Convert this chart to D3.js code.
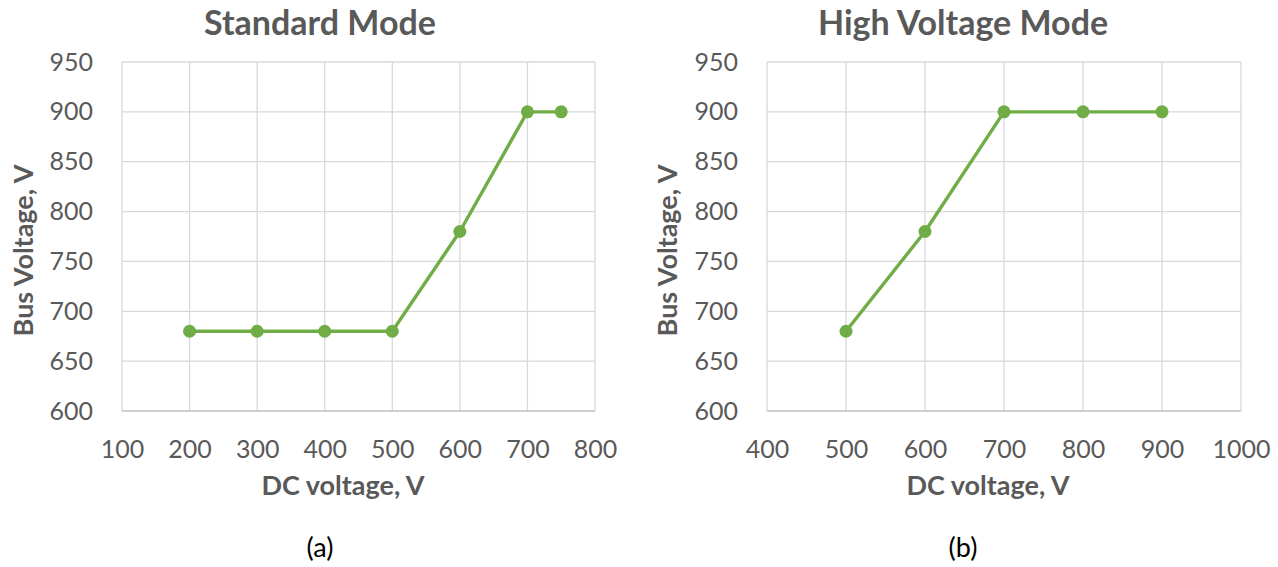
<!DOCTYPE html>
<html>
<head>
<meta charset="utf-8">
<script src="https://cdn.jsdelivr.net/npm/d3@7"></script>
<style>
  body { margin: 0; background: #fff; }
  svg { display: block; font-family: Lato, "Open Sans", sans-serif; }
</style>
</head>
<body>
<svg id="chart" width="1278" height="567"></svg>
<script>
// Standard mode data
const stdDc = [200, 300, 400, 500, 600, 700, 750];
const stdBus = [680, 680, 680, 680, 780, 900, 900];
const stdXTicks = [100, 200, 300, 400, 500, 600, 700, 800];

// High voltage mode data
const hvDc = [500, 600, 700, 800, 900];
const hvBus = [680, 780, 900, 900, 900];
const hvXTicks = [400, 500, 600, 700, 800, 900, 1000];

const yTicks = [600, 650, 700, 750, 800, 850, 900, 950];

const panels = [
  { title: 'Standard Mode', tag: '(a)', xs: stdDc, ys: stdBus, xTicks: stdXTicks,
    left: 122, right: 595, center: 320, xTitleX: 343, yTitleX: 24 },
  { title: 'High Voltage Mode', tag: '(b)', xs: hvDc, ys: hvBus, xTicks: hvXTicks,
    left: 767, right: 1241, center: 963, xTitleX: 988, yTitleX: 668 }
];

const plotTop = 62, plotBottom = 411;
const green = '#70ad47', gray = '#595959', grid = '#d9d9d9';
const svg = d3.select('#chart');

panels.forEach(p => {
  const x = d3.scaleLinear()
    .domain(d3.extent(p.xTicks))
    .range([p.left, p.right]);
  const y = d3.scaleLinear()
    .domain(d3.extent(yTicks))
    .range([plotBottom, plotTop]);

  const g = svg.append('g');

  // gridlines
  g.append('g').selectAll('line')
    .data(p.xTicks)
    .enter().append('line')
    .attr('x1', d => x(d)).attr('x2', d => x(d))
    .attr('y1', plotTop).attr('y2', plotBottom)
    .style('stroke', grid).style('stroke-width', 1.3);

  g.append('g').selectAll('line')
    .data(yTicks)
    .enter().append('line')
    .attr('x1', p.left).attr('x2', p.right)
    .attr('y1', d => y(d)).attr('y2', d => y(d))
    .style('stroke', d => d === yTicks[0] ? '#bfbfbf' : grid)
    .style('stroke-width', 1.3);

  // axes (labels only)
  const xAxis = g.append('g')
    .attr('transform', `translate(0,${plotBottom})`)
    .call(d3.axisBottom(x).tickValues(p.xTicks).tickSize(0).tickFormat(d3.format('d')));
  const yAxis = g.append('g')
    .attr('transform', `translate(${p.left},0)`)
    .call(d3.axisLeft(y).tickValues(yTicks).tickSize(0).tickPadding(29).tickFormat(d3.format('d')));

  [xAxis, yAxis].forEach(a => {
    a.select('.domain').remove();
    a.selectAll('text')
      .style('font-family', 'Lato, sans-serif')
      .style('font-size', '25px')
      .style('fill', gray);
  });
  xAxis.selectAll('text').attr('dy', '0.32em').attr('y', 39);

  // series
  const pts = p.xs.map((v, i) => [v, p.ys[i]]);
  g.append('path')
    .datum(pts)
    .attr('d', d3.line().x(d => x(d[0])).y(d => y(d[1])))
    .style('fill', 'none')
    .style('stroke', green)
    .style('stroke-width', 3.4)
    .style('stroke-linejoin', 'round');

  g.append('g').selectAll('circle')
    .data(pts)
    .enter().append('circle')
    .attr('cx', d => x(d[0]))
    .attr('cy', d => y(d[1]))
    .attr('r', 6.5)
    .style('fill', green);

  // titles
  g.append('text')
    .attr('x', p.center).attr('y', 35)
    .attr('text-anchor', 'middle')
    .style('font-size', '34px').style('font-weight', 'bold').style('fill', gray)
    .text(p.title);

  g.append('text')
    .attr('x', p.xTitleX).attr('y', 495)
    .attr('text-anchor', 'middle')
    .style('font-size', '27px').style('font-weight', 'bold').style('fill', gray)
    .text('DC voltage, V');

  g.append('text')
    .attr('transform', `translate(${p.yTitleX + 9},${(plotTop + plotBottom) / 2 + 14}) rotate(-90)`)
    .attr('text-anchor', 'middle')
    .style('font-size', '27px').style('font-weight', 'bold').style('fill', gray)
    .text('Bus Voltage, V');

  g.append('text')
    .attr('x', p.center).attr('y', 557)
    .attr('text-anchor', 'middle')
    .style('font-size', '27px').style('fill', '#000')
    .text(p.tag);
});
</script>
</body>
</html>
